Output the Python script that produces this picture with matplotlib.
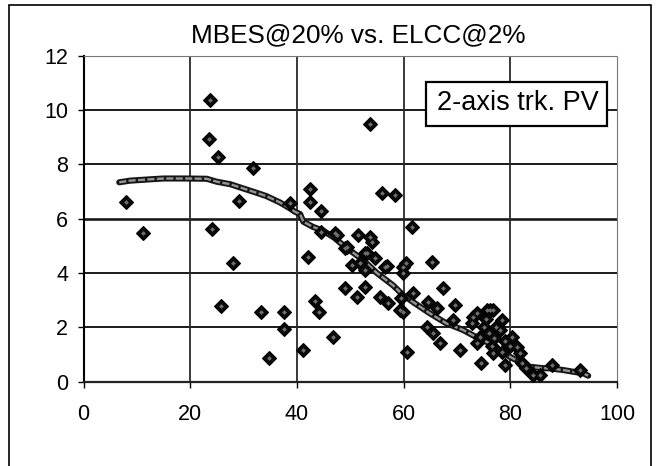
import matplotlib
matplotlib.use("Agg")
import matplotlib.pyplot as plt
from matplotlib.patches import Rectangle

plt.rcParams['font.family'] = ['Liberation Sans', 'DejaVu Sans']

# ELCC@2% (x) vs MBES@20% (y), individual sites
elcc = [7.9, 11.1, 23.7, 23.6, 25.3, 24.0, 25.8, 28.0, 29.2, 31.8,
        33.3, 34.8, 37.5, 37.6, 38.7, 41.2, 42.0, 42.5, 42.5, 44.6,
        43.4, 44.2, 46.8, 44.6, 47.1, 47.5, 49.0, 49.3, 49.0, 50.3,
        51.2, 51.5, 51.8, 52.8, 52.8, 52.8, 53.1, 53.7, 54.0, 53.7,
        54.6, 55.6, 55.9, 56.5, 56.8, 57.1, 58.4, 59.3, 59.6, 59.8,
        59.9, 59.9, 60.5, 60.6, 61.5, 61.8, 64.3, 64.6, 65.3, 65.6,
        66.2, 66.8, 67.3, 69.3, 69.6, 70.6, 72.8, 73.1, 73.7, 73.7,
        74.3, 74.6, 75.0, 75.5, 75.6, 76.0, 76.2, 76.5, 76.8, 76.8,
        77.0, 77.4, 78.0, 78.4, 78.5, 79.0, 79.0, 80.0, 80.3, 81.2,
        81.8, 82.1, 83.0, 84.3, 85.6, 87.8, 93.1]
mbes = [6.60, 5.49, 10.36, 8.95, 8.26, 5.61, 2.80, 4.36, 6.66, 7.85,
        2.58, 0.86, 2.58, 1.93, 6.56, 1.17, 4.60, 7.11, 6.62, 6.28,
        2.96, 2.58, 1.66, 5.52, 5.46, 5.40, 4.91, 4.97, 3.44, 4.29,
        3.13, 5.39, 4.36, 4.72, 4.11, 3.50, 4.72, 5.34, 5.15, 9.47,
        4.54, 3.13, 6.95, 4.23, 4.26, 2.88, 6.87, 2.64, 3.07, 3.99,
        2.58, 4.23, 4.36, 1.10, 5.70, 3.25, 2.02, 2.94, 4.42, 1.78,
        2.70, 1.41, 3.46, 2.27, 2.82, 1.17, 2.15, 2.39, 2.52, 1.41,
        1.66, 0.68, 2.00, 2.30, 2.64, 1.80, 2.64, 1.30, 2.64, 1.04,
        1.60, 2.02, 1.90, 2.27, 1.10, 1.50, 0.61, 1.30, 1.66, 1.29,
        1.04, 0.68, 0.50, 0.25, 0.25, 0.61, 0.43]

# Smoothed trend of MBES against ELCC
trend_x = [6.7, 8.7, 12.5, 15.0, 19.3, 23.1, 25.0, 27.5, 30.0, 32.5,
           34.3, 36.8, 38.7, 39.6, 40.6, 41.2, 43.0, 45.0, 47.0, 49.0,
           52.4, 55.0, 58.0, 59.9, 62.0, 64.9, 68.0, 71.2, 74.0, 76.2,
           78.0, 79.9, 82.0, 83.7, 86.0, 87.4, 89.9, 92.0, 93.7, 94.6]
trend_y = [7.34, 7.40, 7.45, 7.48, 7.48, 7.47, 7.36, 7.27, 7.11, 6.95,
           6.83, 6.60, 6.38, 6.26, 6.17, 5.89, 5.70, 5.55, 5.30, 4.97,
           4.48, 4.00, 3.55, 3.19, 2.90, 2.52, 2.15, 1.90, 1.60, 1.41,
           1.15, 0.92, 0.70, 0.55, 0.50, 0.49, 0.43, 0.36, 0.31, 0.22]

x_ticks = [0, 20, 40, 60, 80, 100]
y_ticks = [0, 2, 4, 6, 8, 10, 12]

W, H = 660, 466
fig = plt.figure(figsize=(W / 100, H / 100), dpi=100)
ax = fig.add_axes([83.5 / W, 1 - 381.7 / H, (617 - 83.5) / W, (381.7 - 55.7) / H])

ax.set_xlim(0, 100)
ax.set_ylim(0, 12)
ax.set_xticks(x_ticks)
ax.set_yticks(y_ticks)

# grid
for yv in y_ticks[1:-1]:
    ax.axhline(yv, color='#1a1a1a', lw=1.4 if yv != 6 else 1.9, zorder=1)
for xv in x_ticks[1:-1]:
    ax.axvline(xv, color='#2a2a2a', lw=1.3, zorder=1)

ax.spines['top'].set_color('#777777')
ax.spines['top'].set_linestyle((0, (1, 1)))
ax.spines['right'].set_color('#777777')
ax.spines['right'].set_linestyle((0, (1, 1)))
ax.spines['left'].set_color('black')
ax.spines['left'].set_linewidth(1.5)
ax.spines['bottom'].set_color('#222222')
ax.spines['bottom'].set_linewidth(1.6)

ax.tick_params(axis='both', direction='out', length=4, width=1.0,
               labelsize=15.5, colors='black')
ax.tick_params(axis='x', pad=12)
ax.tick_params(axis='y', pad=7)

# trend line: dark outline with lighter core
ax.plot(trend_x, trend_y, color='#151515', lw=4.4, solid_capstyle='round',
        solid_joinstyle='round', zorder=3)
ax.plot(trend_x, trend_y, color='#959595', lw=1.7, ls=(0, (3, 1)), zorder=4)

# site markers
ax.plot(elcc, mbes, ls='none', marker='D', ms=7.6, mfc='#0a0a0a', mec='black',
        mew=0.8, zorder=5)
ax.plot(elcc, mbes, ls='none', marker='D', ms=2.4, mfc='#707070', mec='none',
        zorder=6)

# title
fig.text(358 / W, 1 - 35 / H, 'MBES@20% vs. ELCC@2%', ha='center', va='center',
         fontsize=18.8)

# series label box
bx0, bx1, by0, by1 = 426, 607, 82, 126
fig.add_artist(Rectangle((bx0 / W, 1 - by1 / H), (bx1 - bx0) / W, (by1 - by0) / H,
                         transform=fig.transFigure, facecolor='white',
                         edgecolor='black', lw=1.6, zorder=10))
fig.text(517.5 / W, 1 - 103 / H, '2-axis trk. PV', ha='center',
         va='center', fontsize=19.5, zorder=11)

# chart border
fig.add_artist(Rectangle((9 / W, -0.05), (651 - 9) / W, 1.05 - 5 / H,
                         transform=fig.transFigure, facecolor='none',
                         edgecolor='black', lw=1.2))

fig.savefig('out.png', dpi=100)
